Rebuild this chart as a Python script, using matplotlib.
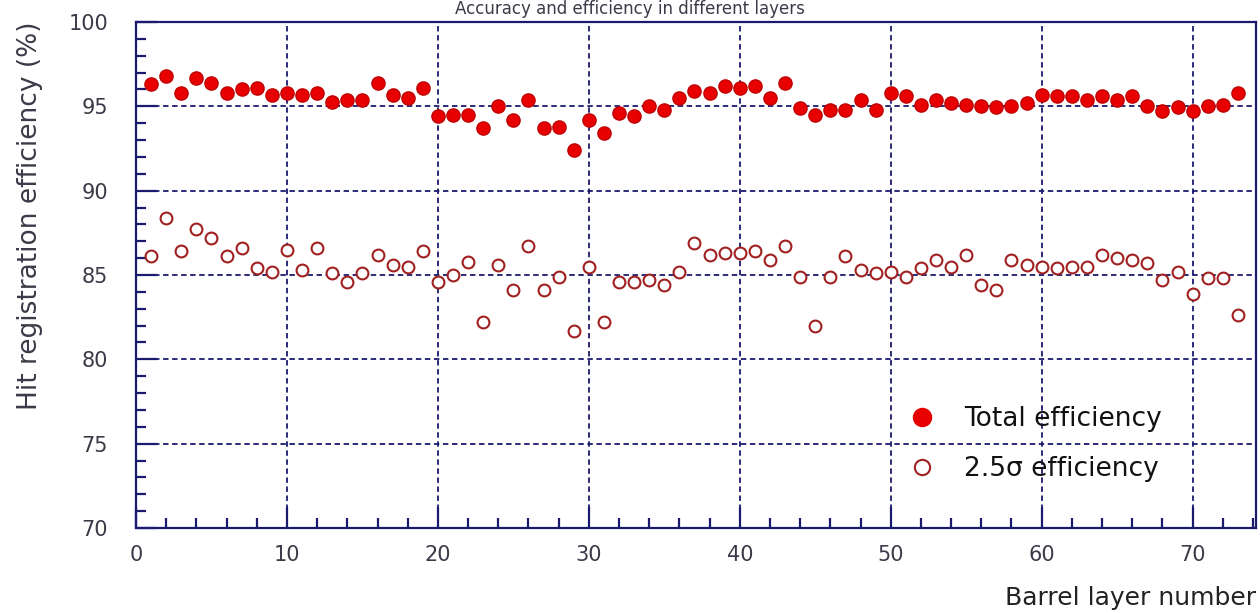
import matplotlib
matplotlib.use("Agg")
import matplotlib.pyplot as plt
from matplotlib.ticker import MultipleLocator
from matplotlib.lines import Line2D

layers = list(range(1, 74))
total_eff = [96.3, 96.8, 95.8, 96.7, 96.4, 95.8, 96.0, 96.1, 95.7, 95.8,
             95.7, 95.8, 95.25, 95.4, 95.4, 96.4, 95.7, 95.5, 96.1, 94.4,
             94.5, 94.5, 93.7, 95.0, 94.2, 95.4, 93.7, 93.8, 92.4, 94.2,
             93.4, 94.6, 94.4, 95.0, 94.8, 95.5, 95.9, 95.8, 96.2, 96.1,
             96.2, 95.5, 96.4, 94.9, 94.5, 94.8, 94.8, 95.4, 94.8, 95.8,
             95.6, 95.1, 95.4, 95.2, 95.1, 95.0, 94.95, 95.0, 95.2, 95.7,
             95.6, 95.6, 95.4, 95.6, 95.4, 95.6, 95.0, 94.7, 94.95, 94.7,
             95.0, 95.1, 95.8]
sigma_eff = [86.1, 88.4, 86.4, 87.7, 87.2, 86.1, 86.6, 85.4, 85.2, 86.5,
             85.3, 86.6, 85.1, 84.6, 85.1, 86.2, 85.6, 85.5, 86.4, 84.6,
             85.0, 85.8, 82.2, 85.6, 84.1, 86.7, 84.1, 84.9, 81.7, 85.5,
             82.2, 84.6, 84.6, 84.7, 84.4, 85.2, 86.9, 86.2, 86.3, 86.3,
             86.4, 85.9, 86.7, 84.9, 82.0, 84.9, 86.1, 85.3, 85.1, 85.2,
             84.9, 85.4, 85.9, 85.5, 86.2, 84.4, 84.1, 85.9, 85.6, 85.5,
             85.4, 85.5, 85.5, 86.2, 86.0, 85.9, 85.7, 84.7, 85.2, 83.9,
             84.8, 84.8, 82.6]

title = "Accuracy and efficiency in different layers"
xlabel = "Barrel layer number"
ylabel = "Hit registration efficiency (%)"
legend_labels = ["Total efficiency", "2.5\u03c3 efficiency"]

navy = "#1a1a6e"
txt = "#3a3a48"

fig = plt.figure(figsize=(12.6, 6.13), dpi=100)
ax = fig.add_axes([136/1260, 1-528/613, (1256-136)/1260, (528-22)/613])

ax.set_xlim(0, 74.2)
ax.set_ylim(70, 100)

ax.grid(True, which="major", color=navy, linestyle=(0, (3, 2)), linewidth=1.3)
ax.set_axisbelow(True)

ax.plot(layers, total_eff, linestyle="none", marker="o", markersize=9.5,
        markerfacecolor="#e80000", markeredgecolor="#c00000", markeredgewidth=1.0,
        zorder=3)
ax.plot(layers, sigma_eff, linestyle="none", marker="o", markersize=8.5,
        markerfacecolor="white", markeredgecolor="#a02020", markeredgewidth=1.5,
        zorder=3)

ax.xaxis.set_major_locator(MultipleLocator(10))
ax.xaxis.set_minor_locator(MultipleLocator(2))
ax.yaxis.set_major_locator(MultipleLocator(5))
ax.yaxis.set_minor_locator(MultipleLocator(1))
ax.tick_params(axis="both", which="major", direction="in", length=15, width=1.6,
               color=navy, labelsize=15, labelcolor=txt)
ax.tick_params(axis="both", which="minor", direction="in", length=7, width=1.6,
               color=navy)
ax.tick_params(axis="x", which="major", pad=12)
ax.tick_params(axis="y", which="major", pad=20)
for s in ax.spines.values():
    s.set_color(navy)
    s.set_linewidth(1.6)

fig.text(630/1260, 1-9/613, title, ha="center", va="center", fontsize=12, color=txt)
fig.text(30/1260, 1-216/613, ylabel, ha="center", va="center", rotation=90,
         fontsize=19, color=txt)
fig.text(1256/1260, 1-598/613, xlabel, ha="right", va="center", fontsize=18, color="#222222")

handles = [
    Line2D([], [], linestyle="none", marker="o", markersize=13,
           markerfacecolor="#e80000", markeredgecolor="#e80000"),
    Line2D([], [], linestyle="none", marker="o", markersize=11,
           markerfacecolor="white", markeredgecolor="#a02020", markeredgewidth=1.5),
]
leg = ax.legend(handles, legend_labels, loc="center left",
                bbox_to_anchor=((878-136)/1120, (528-444)/506),
                frameon=False, fontsize=19, handletextpad=0.85, labelspacing=0.9,
                handlelength=1.5)
for t in leg.get_texts():
    t.set_color("#111111")

fig.savefig("out.png", dpi=100)
